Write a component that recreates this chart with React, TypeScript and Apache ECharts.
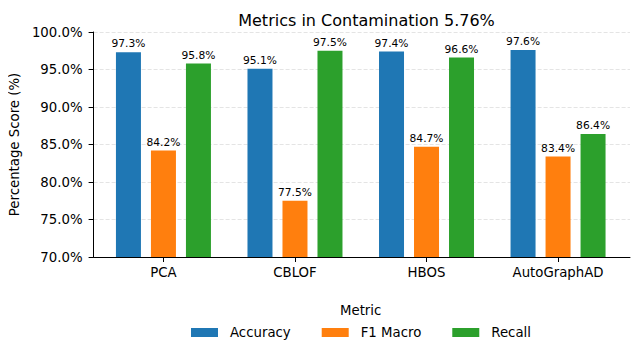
import React, { useEffect, useRef } from "react";
import * as echarts from "echarts";

const categories = ["PCA", "CBLOF", "HBOS", "AutoGraphAD"];
const seriesNames = ["Accuracy", "F1 Macro", "Recall"];
const accuracy = [97.3, 95.1, 97.4, 97.6];
const f1Macro = [84.2, 77.5, 84.7, 83.4];
const recall = [95.8, 97.5, 96.6, 86.4];
const colors = ["#1f77b4", "#ff7f0e", "#2ca02c"];
const yTicks = [70, 75, 80, 85, 90, 95, 100];

const FONT = "DejaVu Sans";

export default function App() {
  const ref = useRef<HTMLDivElement>(null);
  useEffect(() => {
    if (!ref.current) return;
    const chart = echarts.init(ref.current, null, { renderer: "svg" });
    const values = [accuracy, f1Macro, recall];
    chart.setOption({
      animation: false,
      textStyle: { fontFamily: FONT, color: "#000" },
      title: {
        text: "Metrics in Contamination 5.76%",
        left: 361.5,
        textAlign: "center",
        top: 7,
        textStyle: { fontFamily: FONT, fontSize: 16, fontWeight: "normal", color: "#000" },
      },
      grid: { left: 93, right: 10, top: 32, bottom: 97 },
      xAxis: {
        type: "value",
        min: -0.531,
        max: 3.547,
        splitLine: { show: false },
        axisLine: { show: true, onZero: false, lineStyle: { color: "#000", width: 1 } },
        axisTick: { show: true, customValues: [0, 1, 2, 3], length: 5, lineStyle: { color: "#000" } },
        axisLabel: {
          customValues: [0, 1, 2, 3],
          formatter: (v: number) => categories[Math.round(v)] ?? "",
          fontFamily: FONT,
          fontSize: 13.3,
          color: "#000",
          margin: 9,
        },
      },
      yAxis: {
        type: "value",
        min: 70,
        max: 100,
        interval: 5,
        name: "Percentage Score (%)",
        nameLocation: "middle",
        nameGap: 67,
        nameTextStyle: { fontFamily: FONT, fontSize: 13.3, color: "#000" },
        axisLine: { show: true, onZero: false, lineStyle: { color: "#000", width: 1 } },
        axisTick: { show: true, length: 5, lineStyle: { color: "#000" } },
        axisLabel: {
          formatter: (v: number) => (yTicks.includes(v) ? v.toFixed(1) + "%" : ""),
          fontFamily: FONT,
          fontSize: 13.3,
          color: "#000",
          margin: 11,
        },
        splitLine: { show: true, lineStyle: { color: "#dddddd", type: [4, 2], width: 0.8 } },
      },
      legend: {
        data: seriesNames,
        left: 191,
        top: 326,
        padding: 0,
        icon: "rect",
        itemWidth: 27,
        itemHeight: 9,
        itemGap: 31,
        textStyle: { fontFamily: FONT, fontSize: 13.3, color: "#000", padding: [0, 0, 0, 7] },
      },
      graphic: [
        {
          type: "text",
          left: 340,
          top: 304,
          style: { text: "Metric", font: `13.3px "${FONT}"`, fill: "#000" },
        },
      ],
      series: seriesNames.map((name, si) => ({
        name,
        type: "bar",
        data: values[si].map((v, i) => [i, v]),
        barWidth: 25,
        barGap: "40%",
        itemStyle: { color: colors[si] },
        label: {
          show: true,
          position: "top",
          distance: 3,
          formatter: (p: any) => p.value[1].toFixed(1) + "%",
          fontFamily: FONT,
          fontSize: 10.7,
          color: "#000",
        },
      })),
    });
    return () => chart.dispose();
  }, []);
  return <div ref={ref} style={{ width: 640, height: 354, margin: -8 }} />;
}
